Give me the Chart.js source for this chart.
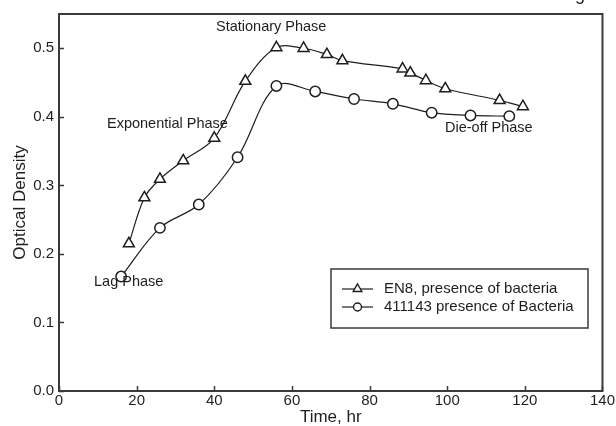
<!DOCTYPE html>
<html>
<head>
<meta charset="utf-8">
<title>Optical Density vs Time</title>
<script src="https://cdn.jsdelivr.net/npm/chart.js@4.4.1/dist/chart.umd.min.js"></script>
<style>
  html, body { margin: 0; padding: 0; background: #fff; }
  #myChart { display: block; }
</style>
</head>
<body>
<canvas id="myChart" width="616" height="426"></canvas>
<script>
// datos
var timeEN8 = [18, 22, 26, 32, 40, 48, 56, 63, 69, 73, 88.5, 90.5, 94.5, 99.5, 113.5, 119.5];
var odEN8 = [0.215, 0.282, 0.309, 0.336, 0.369, 0.452, 0.501, 0.500, 0.491, 0.482, 0.470, 0.464, 0.453, 0.441, 0.424, 0.415];
var time411 = [16, 26, 36, 46, 56, 66, 76, 86, 96, 106, 116];
var od411 = [0.167, 0.238, 0.272, 0.341, 0.445, 0.437, 0.426, 0.419, 0.406, 0.402, 0.401];

var seriesLabels = ["EN8, presence of bacteria", "411143 presence of Bacteria"];
var phaseLabels = ["Stationary Phase", "Exponential Phase", "Lag Phase", "Die-off Phase"];
var xTitle = "Time, hr";
var yTitle = "Optical Density";

var ink = "#1e1e1e";
var frameColor = "#3a3a3a";
var fontFam = "'Liberation Sans', Arial, sans-serif";

function toPoints(xs, ys) {
    var pts = [];
    for (var i = 0; i < xs.length; i++) {
        pts.push({ x: xs[i], y: ys[i] });
    }
    return pts;
}

// marco, ticks hacia adentro, textos de fases y leyenda
var extras = {
    id: "extras",
    afterDraw: function (chart) {
        var ctx = chart.ctx;
        var a = chart.chartArea;
        var xs = chart.scales.x;
        var ys = chart.scales.y;
        ctx.save();

        // ticks internos
        ctx.strokeStyle = frameColor;
        ctx.lineWidth = 1.5;
        ctx.beginPath();
        xs.ticks.forEach(function (t) {
            var px = Math.round(xs.getPixelForValue(t.value)) + 0.5;
            ctx.moveTo(px, a.bottom);
            ctx.lineTo(px, a.bottom - 5);
        });
        ys.ticks.forEach(function (t) {
            var py = Math.round(ys.getPixelForValue(t.value)) + 0.5;
            ctx.moveTo(a.left, py);
            ctx.lineTo(a.left + 5, py);
        });
        ctx.stroke();

        // marco
        ctx.lineWidth = 2;
        ctx.strokeRect(a.left, a.top, a.right - a.left, a.bottom - a.top);

        // textos de fases
        ctx.fillStyle = ink;
        ctx.font = "14.5px " + fontFam;
        ctx.textBaseline = "middle";
        ctx.textAlign = "left";
        ctx.fillText(phaseLabels[0], 216, 27);
        ctx.fillText(phaseLabels[1], 107, 124);
        ctx.fillText(phaseLabels[2], 94, 282);
        ctx.fillText(phaseLabels[3], 445, 128);

        // titulos de ejes
        ctx.font = "17px " + fontFam;
        ctx.textAlign = "center";
        ctx.fillText(xTitle, (a.left + a.right) / 2, 417);
        ctx.save();
        ctx.translate(20, (a.top + a.bottom) / 2);
        ctx.rotate(-Math.PI / 2);
        ctx.fillText(yTitle, 0, 0);
        ctx.restore();

        // pedazo de letra cortada arriba
        ctx.font = "18px " + fontFam;
        ctx.textAlign = "left";
        ctx.textBaseline = "alphabetic";
        ctx.fillText("g", 575, 0);

        // leyenda
        ctx.strokeStyle = frameColor;
        ctx.lineWidth = 1.5;
        ctx.strokeRect(331, 269, 257, 59);
        ctx.font = "15px " + fontFam;
        ctx.textBaseline = "middle";
        var rows = [289, 307];
        chart.data.datasets.forEach(function (ds, i) {
            var yy = rows[i];
            ctx.strokeStyle = ink;
            ctx.lineWidth = 1.2;
            ctx.beginPath();
            ctx.moveTo(342, yy);
            ctx.lineTo(373, yy);
            ctx.stroke();
            ctx.fillStyle = "#fff";
            ctx.lineWidth = 1.4;
            Chart.helpers.drawPoint(ctx, { pointStyle: ds.pointStyle, radius: ds.pointStyle === "triangle" ? 5 : 4, borderWidth: 1.4 }, 357.5, yy);
            ctx.fillStyle = ink;
            ctx.fillText(ds.label, 384, yy);
        });

        ctx.restore();
    }
};

var ctx = document.getElementById("myChart").getContext("2d");
var myChart = new Chart(ctx, {
    type: "line",
    data: {
        datasets: [{
            label: seriesLabels[0],
            data: toPoints(timeEN8, odEN8),
            borderColor: ink,
            borderWidth: 1.2,
            tension: 0.35,
            pointStyle: "triangle",
            pointRadius: 6.3,
            pointBackgroundColor: "#fff",
            pointBorderColor: ink,
            pointBorderWidth: 1.5
        }, {
            label: seriesLabels[1],
            data: toPoints(time411, od411),
            borderColor: ink,
            borderWidth: 1.2,
            tension: 0.35,
            pointStyle: "circle",
            pointRadius: 5.2,
            pointBackgroundColor: "#fff",
            pointBorderColor: ink,
            pointBorderWidth: 1.5
        }]
    },
    options: {
        responsive: false,
        animation: false,
        devicePixelRatio: 1,
        layout: { padding: { top: 14, right: 12, left: 0, bottom: 0 } },
        plugins: {
            legend: { display: false },
            tooltip: { enabled: false }
        },
        scales: {
            x: {
                type: "linear",
                min: 0,
                max: 140,
                grid: { display: false, drawTicks: false },
                border: { display: false },
                ticks: {
                    stepSize: 20,
                    color: ink,
                    font: { family: fontFam, size: 15 },
                    padding: 1,
                    maxRotation: 0
                },
                afterFit: function (scale) { scale.height = 35; }
            },
            y: {
                min: 0,
                max: 0.55,
                grid: { display: false, drawTicks: false },
                border: { display: false },
                ticks: {
                    stepSize: 0.1,
                    color: ink,
                    font: { family: fontFam, size: 15 },
                    padding: 5,
                    callback: function (v) { return Number(v).toFixed(1); }
                },
                afterBuildTicks: function (scale) {
                    scale.ticks = scale.ticks.filter(function (t) { return t.value <= 0.5001; });
                },
                afterFit: function (scale) { scale.width = 59; }
            }
        }
    },
    plugins: [extras]
});
</script>
</body>
</html>
